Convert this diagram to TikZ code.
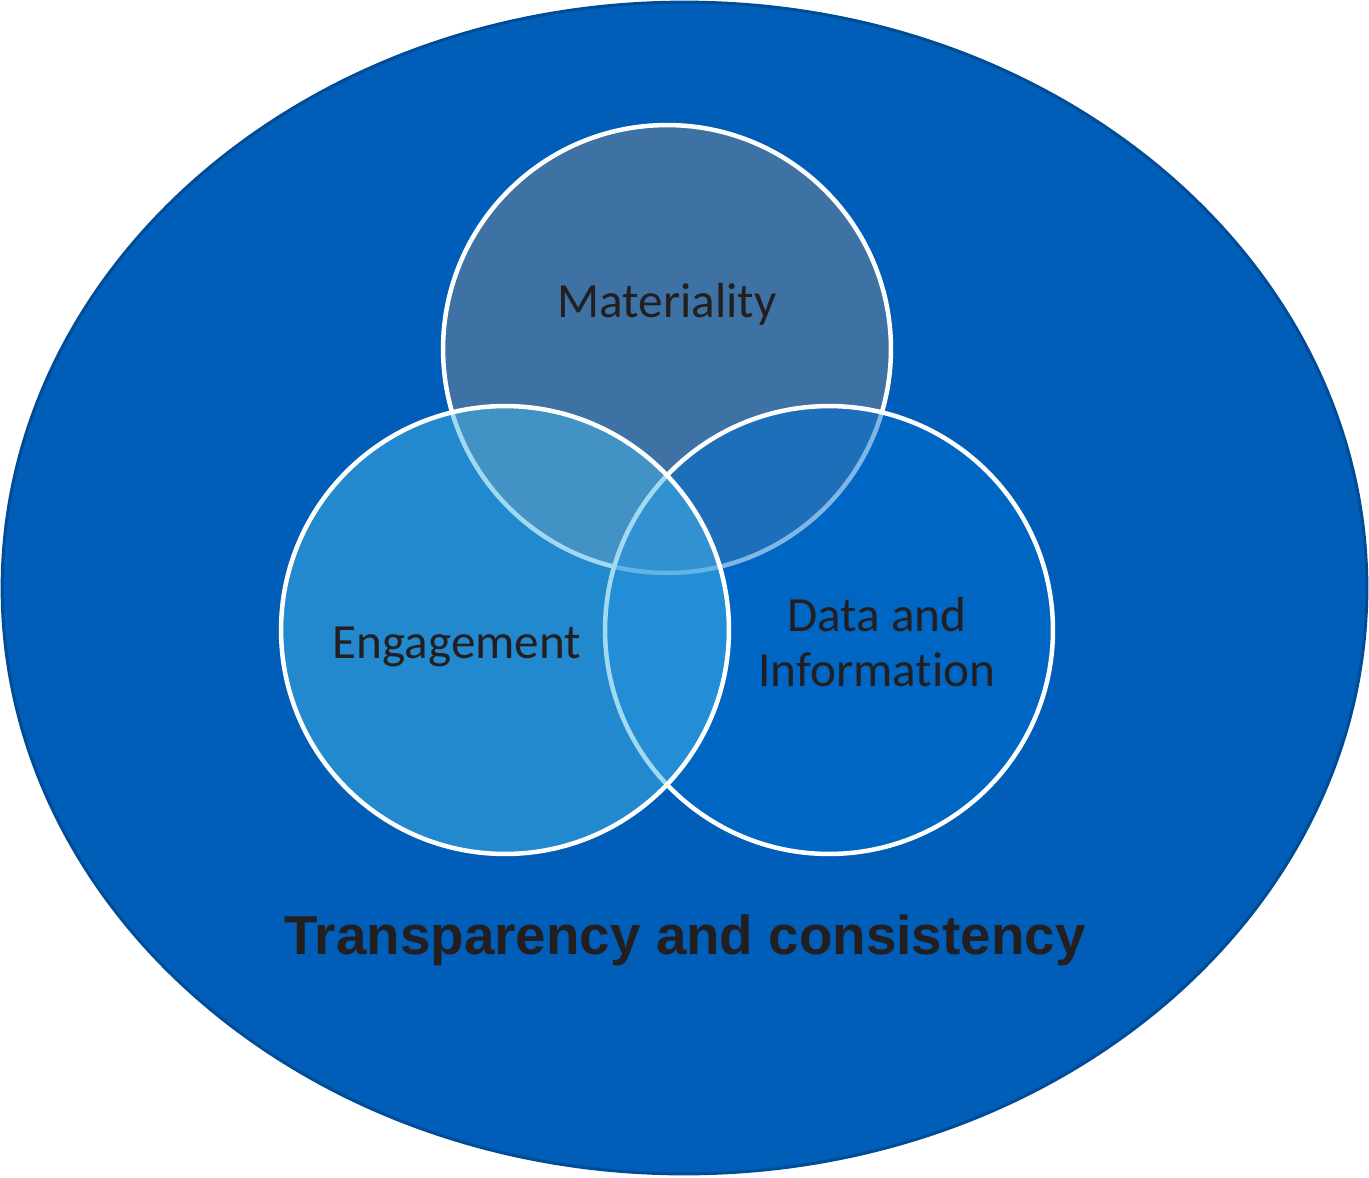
\documentclass[tikz,border=0pt]{standalone}
\usepackage{fontspec}
\setmainfont{Carlito}[Ligatures={NoCommon,NoContextual}]
\newfontfamily\titlefont{Liberation Sans}
\usepackage{tikz}
\usetikzlibrary{shapes.geometric}
\definecolor{outerblue}{RGB}{0,94,184}
\definecolor{outeredge}{RGB}{0,76,150}
\definecolor{matblue}{RGB}{62,113,164}
\definecolor{datablue}{RGB}{0,110,208}
\definecolor{engblue}{RGB}{70,180,230}
\definecolor{inkgrey}{RGB}{35,31,32}

\begin{document}
\begin{tikzpicture}[x=0.02cm,y=-0.02cm,
  ring/.style={circle,draw=white,line width=0.09cm,inner sep=0pt,
               minimum size=8.96cm},
  lab/.style={text=inkgrey,align=center,anchor=base,
              font=\fontsize{28}{31}\selectfont},
  title/.style={text=inkgrey,anchor=base,
                font=\titlefont\bfseries\fontsize{31.2}{36}\selectfont}]
  \useasboundingbox (0,0) rectangle (1369,1177);
  % outer field
  \node[ellipse,draw=outeredge,fill=outerblue,line width=0.06cm,inner sep=0pt,
        minimum width=27.3cm,minimum height=23.44cm] (field) at (684.5,588) {};
  % the three circles
  \node[ring,fill=matblue] (mat) at (667,349) {};
  \node[ring,fill=datablue,fill opacity=0.5] (dat) at (829,630) {};
  \node[ring,fill=engblue,fill opacity=0.5] (eng) at (505,630) {};
  % labels
  \node[lab] (matlab) at (667,317) {Materiality};
  \node[lab] (englab) at (457,658) {Engagement};
  \node[lab] (datlab) at (877,686) {Data and\\Information};
  \node[title] (trans) at (685,954) {Transparency and consistency};
\end{tikzpicture}
\end{document}
